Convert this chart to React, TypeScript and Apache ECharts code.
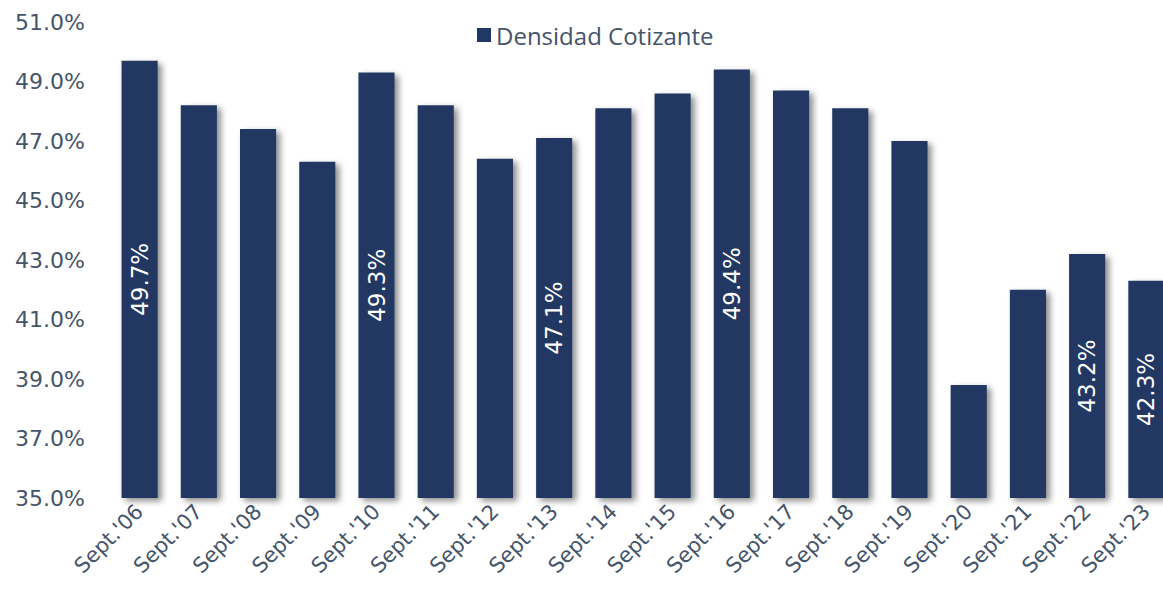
import React, { useEffect, useRef } from "react";
import * as echarts from "echarts";

const categories = ["Sept.'06","Sept.'07","Sept.'08","Sept.'09","Sept.'10","Sept.'11","Sept.'12","Sept.'13","Sept.'14","Sept.'15","Sept.'16","Sept.'17","Sept.'18","Sept.'19","Sept.'20","Sept.'21","Sept.'22","Sept.'23"];
const values = [49.7, 48.2, 47.4, 46.3, 49.3, 48.2, 46.4, 47.1, 48.1, 48.6, 49.4, 48.7, 48.1, 47.0, 38.8, 42.0, 43.2, 42.3];
const labeledCategories = ["Sept.'06", "Sept.'10", "Sept.'13", "Sept.'16", "Sept.'22", "Sept.'23"];
const seriesName = "Densidad Cotizante";

const BAR = "#203864";
const TXT = "#44546A";

export default function App() {
  const ref = useRef<HTMLDivElement>(null);
  useEffect(() => {
    const chart = echarts.init(ref.current!, null, { renderer: "svg" });
    chart.setOption({
      animation: false,
      legend: {
        data: [seriesName],
        top: 18,
        left: 472,
        itemWidth: 14,
        itemHeight: 14,
        itemGap: 5,
        textStyle: { color: TXT, fontSize: 24, fontFamily: "Open Sans" },
        icon: "rect",
      },
      grid: { left: 110, width: 1066, top: 22, bottom: 100, outerBoundsMode: "none" },
      xAxis: {
        type: "category",
        data: categories,
        axisTick: { show: false },
        axisLine: { lineStyle: { color: "#D9DCE0", width: 2, shadowColor: "rgba(0,0,0,0.35)", shadowBlur: 3, shadowOffsetY: 2 } },
        axisLabel: {
          rotate: 45,
          margin: 10,
          color: TXT,
          fontSize: 21,
          fontFamily: "DejaVu Sans",
          interval: 0,
        },
      },
      yAxis: {
        type: "value",
        min: 35,
        max: 51,
        interval: 2,
        splitLine: { show: false },
        axisLine: { show: false },
        axisTick: { show: false },
        axisLabel: {
          margin: 25,
          color: TXT,
          fontSize: 22,
          fontFamily: "DejaVu Sans",
          formatter: (v: number) => v.toFixed(1) + "%",
        },
      },
      series: [
        {
          name: seriesName,
          type: "bar",
          barWidth: "61%",
          data: values.map((v, i) => ({
            value: v,
            label: { show: labeledCategories.includes(categories[i]) },
          })),
          itemStyle: {
            color: BAR,
            shadowColor: "rgba(0,0,0,0.45)",
            shadowBlur: 6,
            shadowOffsetX: 4,
            shadowOffsetY: 3,
          },
          label: {
            position: "inside",
            rotate: 90,
            color: "#FFFFFF",
            fontSize: 23,
            fontFamily: "DejaVu Sans",
            formatter: (p: any) => p.value.toFixed(1) + "%",
          },
        },
      ],
    });
    return () => chart.dispose();
  }, []);
  return <div ref={ref} style={{ width: 1163, height: 598, position: "absolute", left: 0, top: 0 }} />;
}
